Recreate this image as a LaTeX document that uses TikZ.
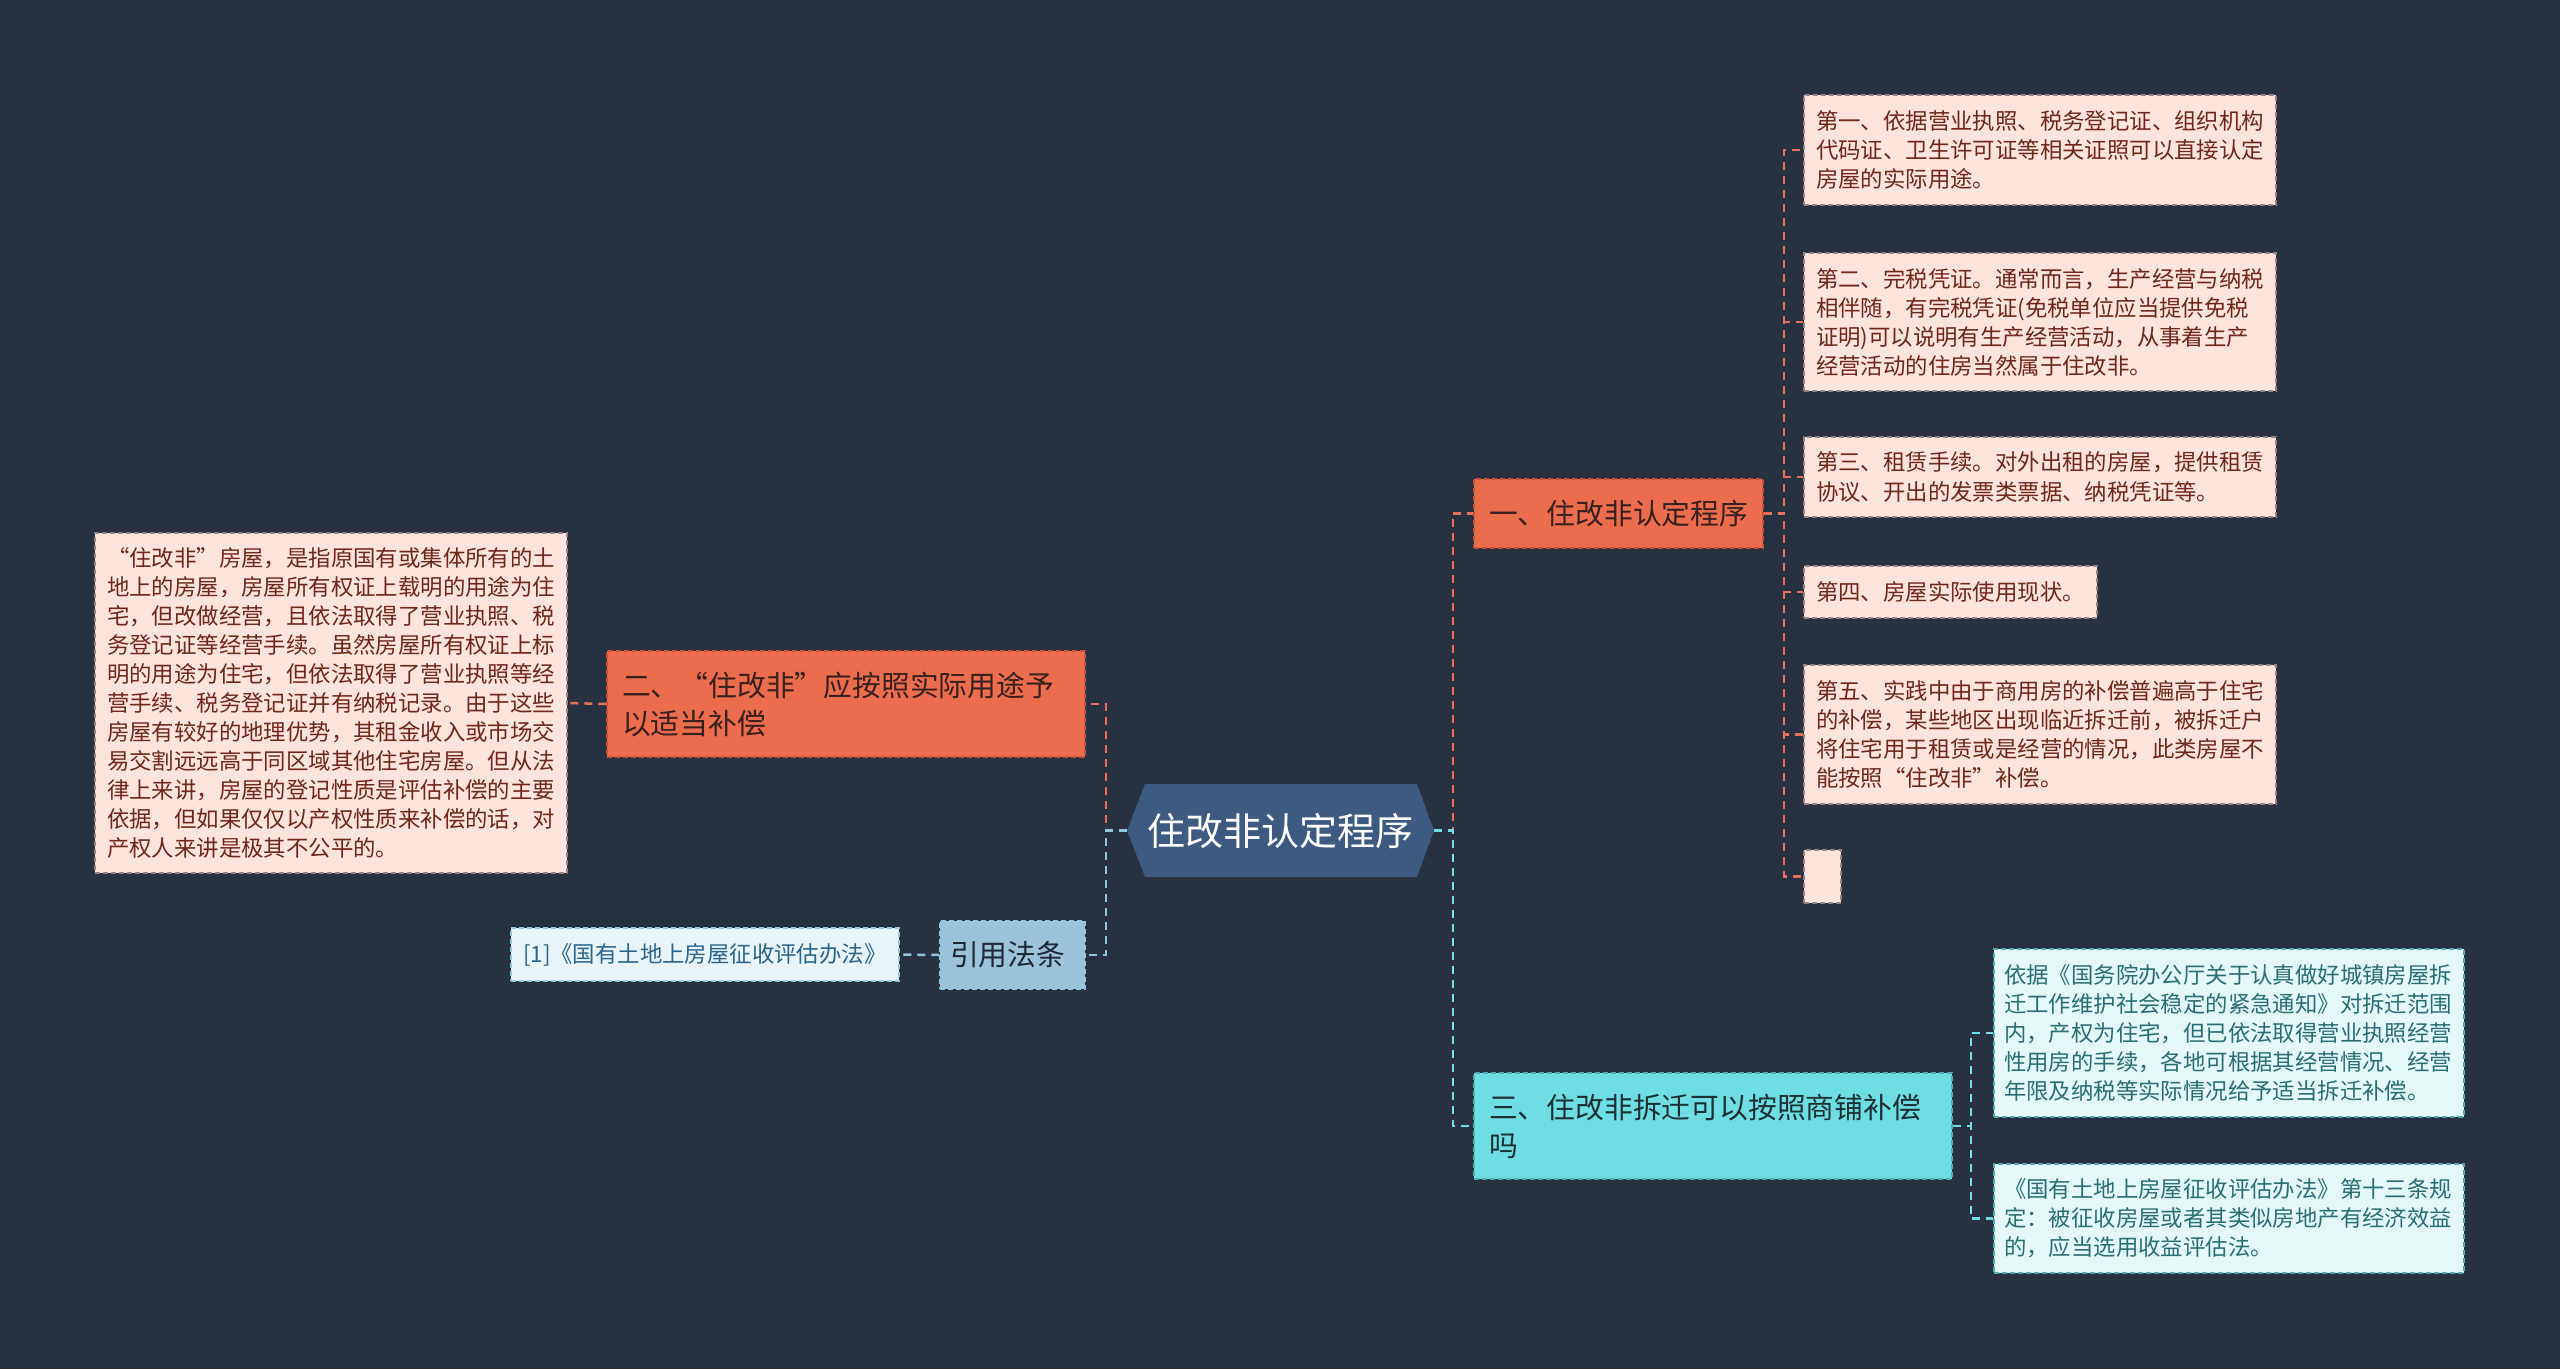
\documentclass[tikz,border=0pt]{standalone}
\usepackage{fontspec}
\setmainfont{Noto Sans CJK SC}
\definecolor{bg}{RGB}{40,49,64}
\definecolor{orgfill}{RGB}{236,108,78}
\definecolor{orgedge}{RGB}{200,80,55}
\definecolor{orgtext}{RGB}{55,32,30}
\definecolor{orgline}{RGB}{232,112,90}
\definecolor{pinkfill}{RGB}{252,228,221}
\definecolor{pinkedge}{RGB}{150,130,130}
\definecolor{pinktext}{RGB}{112,38,24}
\definecolor{rootfill}{RGB}{61,90,128}
\definecolor{cyanfill}{RGB}{110,221,228}
\definecolor{cyanedge}{RGB}{80,170,180}
\definecolor{cyantext}{RGB}{28,48,52}
\definecolor{cyanline}{RGB}{110,221,228}
\definecolor{lcyanfill}{RGB}{228,248,248}
\definecolor{lcyantext}{RGB}{42,110,115}
\definecolor{lawfill}{RGB}{156,195,220}
\definecolor{lawtext}{RGB}{30,40,52}
\definecolor{lawline}{RGB}{143,199,224}
\definecolor{reffill}{RGB}{232,244,248}
\definecolor{reftext}{RGB}{40,100,140}
\begin{document}
\begin{tikzpicture}[x=1pt,y=-1pt,
  boxbase/.style={rectangle, inner ysep=0pt, align=left, line width=1.2pt, dash pattern=on 5pt off 3pt},
  smallfont/.style={font=\fontsize{22.4pt}{29pt}\selectfont},
  bigfont/.style={font=\fontsize{28.8pt}{38pt}\selectfont},
  pinkbox/.style={boxbase, smallfont, inner xsep=12pt, fill=pinkfill, draw=pinkedge, text=pinktext},
  lcyanbox/.style={boxbase, smallfont, inner xsep=10pt, fill=lcyanfill, draw=cyanedge, text=lcyantext},
  orgbox/.style={boxbase, bigfont, inner xsep=15pt, fill=orgfill, draw=orgedge, text=orgtext},
  cyanbox/.style={boxbase, bigfont, inner xsep=15pt, fill=cyanfill, draw=cyanedge, text=cyantext},
  lawbox/.style={boxbase, bigfont, inner xsep=10pt, fill=lawfill, draw=lawline, text=lawtext},
  refbox/.style={boxbase, smallfont, inner xsep=12pt, fill=reffill, draw=lawline, text=reftext},
  conn/.style={line width=2.5pt, dash pattern=on 8pt off 6pt}
]
\useasboundingbox (0,0) rectangle (2560,1369);
\fill[bg] (0,0) rectangle (2560,1369);

% root hexagon
\fill[rootfill] (1127,830.5) -- (1145,784) -- (1417,784) -- (1434,830.5) -- (1417,877) -- (1145,877) -- cycle;
\node[font=\fontsize{38pt}{44pt}\selectfont, text=white, minimum width=307pt, minimum height=93pt, inner sep=0pt] (root) at (1280.5,830.5) {住改非认定程序};

% first level
\node[orgbox, text width=259pt, minimum height=69pt] (n1) at (1618.5,513.5) {一、住改非认定程序};
\node[orgbox, text width=448pt, minimum height=106pt] (b2) at (846,704) {二、“住改非”应按照实际用途予\\以适当补偿};
\node[lawbox, text width=125pt, minimum height=68pt] (law) at (1012.5,955) {引用法条};
\node[cyanbox, text width=448pt, minimum height=106pt] (n3) at (1713,1126) {三、住改非拆迁可以按照商铺补偿\\吗};

% pink leaves
\node[pinkbox, text width=448pt, minimum height=110pt] (p1) at (2040,150) {第一、依据营业执照、税务登记证、组织机构\\代码证、卫生许可证等相关证照可以直接认定\\房屋的实际用途。};
\node[pinkbox, text width=448pt, minimum height=138pt] (p2) at (2040,322) {第二、完税凭证。通常而言，生产经营与纳税\\相伴随，有完税凭证(免税单位应当提供免税\\证明)可以说明有生产经营活动，从事着生产\\经营活动的住房当然属于住改非。};
\node[pinkbox, text width=448pt, minimum height=80pt] (p3) at (2040,477) {第三、租赁手续。对外出租的房屋，提供租赁\\协议、开出的发票类票据、纳税凭证等。};
\node[pinkbox, text width=269pt, minimum height=52pt] (p4) at (1950.5,592) {第四、房屋实际使用现状。};
\node[pinkbox, text width=448pt, minimum height=139pt] (p5) at (2040,734.5) {第五、实践中由于商用房的补偿普遍高于住宅\\的补偿，某些地区出现临近拆迁前，被拆迁户\\将住宅用于租赁或是经营的情况，此类房屋不\\能按照“住改非”补偿。};
\node[pinkbox, inner xsep=0pt, minimum width=37pt, minimum height=53pt] (p6) at (1822.5,876.5) {};

% left leaves
\node[pinkbox, text width=448pt, minimum height=340pt] (long) at (331,703) {“住改非”房屋，是指原国有或集体所有的土\\地上的房屋，房屋所有权证上载明的用途为住\\宅，但改做经营，且依法取得了营业执照、税\\务登记证等经营手续。虽然房屋所有权证上标\\明的用途为住宅，但依法取得了营业执照等经\\营手续、税务登记证并有纳税记录。由于这些\\房屋有较好的地理优势，其租金收入或市场交\\易交割远远高于同区域其他住宅房屋。但从法\\律上来讲，房屋的登记性质是评估补偿的主要\\依据，但如果仅仅以产权性质来补偿的话，对\\产权人来讲是极其不公平的。};
\node[refbox, text width=364pt, minimum height=53pt] (ref) at (705,954.5) {[1]《国有土地上房屋征收评估办法》};

% cyan leaves
\node[lcyanbox, text width=450pt, minimum height=168pt] (c1) at (2229,1033) {依据《国务院办公厅关于认真做好城镇房屋拆\\迁工作维护社会稳定的紧急通知》对拆迁范围\\内，产权为住宅，但已依法取得营业执照经营\\性用房的手续，各地可根据其经营情况、经营\\年限及纳税等实际情况给予适当拆迁补偿。};
\node[lcyanbox, text width=450pt, minimum height=109pt] (c2) at (2229,1218.5) {《国有土地上房屋征收评估办法》第十三条规\\定：被征收房屋或者其类似房地产有经济效益\\的，应当选用收益评估法。};

% junctions
\coordinate (jl) at (1106,830.5);
\coordinate (jr) at (1453,830.5);
\coordinate (j1) at (1784,513.5);
\coordinate (j3) at (1971,1126);

% connectors
\draw[conn, orgline] (root.west) -- (jl) |- (b2.east);
\draw[conn, lawline] (root.west) -- (jl) |- (law.east);
\draw[conn, orgline] (root.east) -- (jr) |- (n1.west);
\draw[conn, cyanline] (root.east) -- (jr) |- (n3.west);
\draw[conn, orgline] (b2.west) -- (long.east);
\draw[conn, lawline] (law.west) -- (ref.east);
\foreach \p in {p1,p2,p3,p4,p5,p6}{
  \draw[conn, orgline] (n1.east) -- (j1) |- (\p.west);
}
\draw[conn, cyanline] (n3.east) -- (j3) |- (c1.west);
\draw[conn, cyanline] (n3.east) -- (j3) |- (c2.west);
\end{tikzpicture}
\end{document}
